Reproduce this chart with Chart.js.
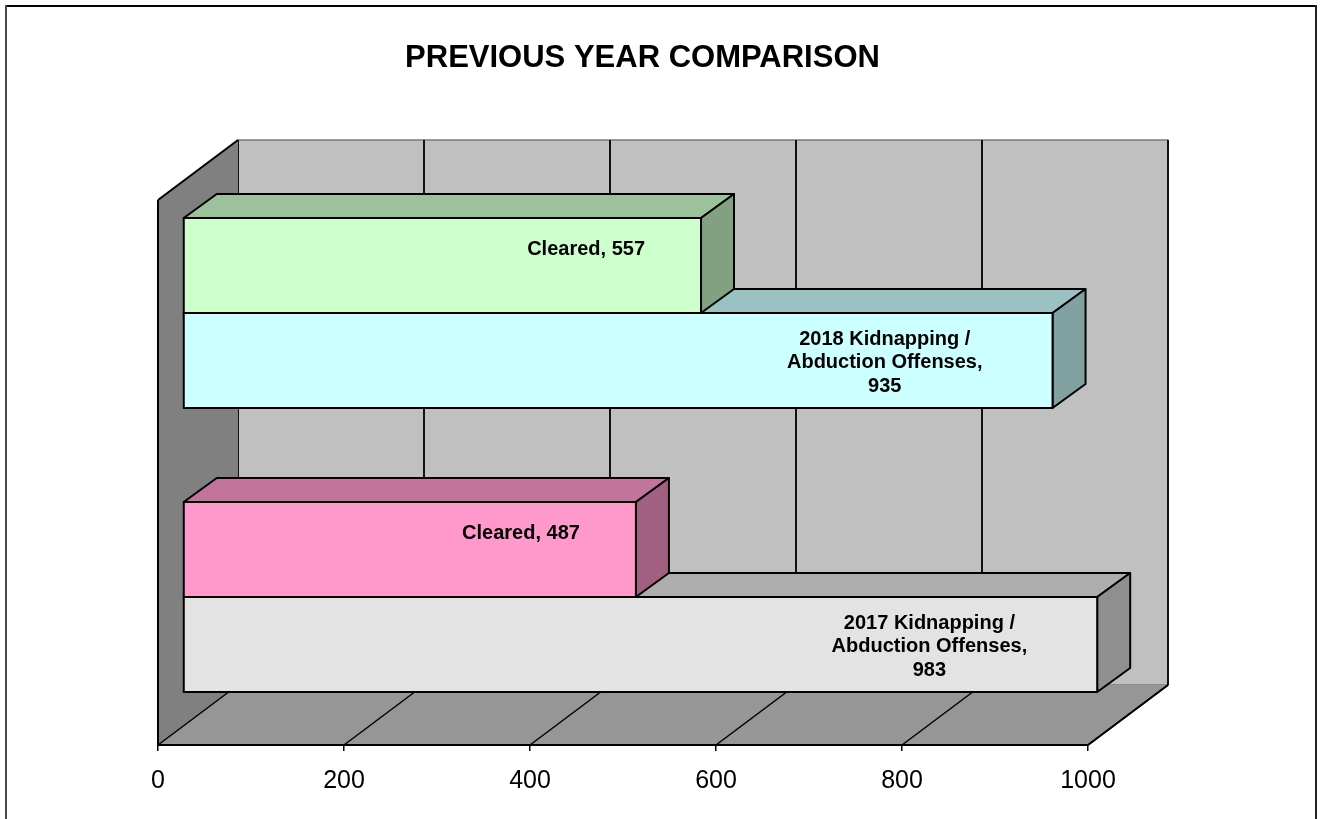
<!DOCTYPE html>
<html lang="en">
<head>
<meta charset="UTF-8">
<title>Previous Year Comparison</title>
<script src="https://cdn.jsdelivr.net/npm/chart.js"></script>
<style>
  html, body { margin: 0; padding: 0; background: #fff; }
  #wrap { width: 1323px; height: 819px; }
</style>
</head>
<body>
<div id="wrap"><canvas id="grafico" width="1323" height="819"></canvas></div>
<script>
// data
const categories = ['2018', '2017'];
const clearedValues = [557, 487];
const offenseValues = [935, 983];
const clearedNames = ['Cleared', 'Cleared'];
const offenseNames = ['2018 Kidnapping / Abduction Offenses', '2017 Kidnapping / Abduction Offenses'];
const clearedColors = ['#CCFFCC', '#FF99CC'];
const offenseColors = ['#CCFFFF', '#E3E3E3'];
const xTicks = [0, 200, 400, 600, 800, 1000];

const FONT = "'Liberation Sans', Arial, sans-serif";
const WALL = { dx: 80, dy: -60 };      // depth of the whole box
const PLANO = { dx: 25, dy: -18 };     // where the bars sit in depth
const FONDO = { dx: 33, dy: -24 };     // depth of each bar

function shade(hex, f) {
    const n = parseInt(hex.slice(1), 16);
    const r = Math.round(((n >> 16) & 255) * f);
    const g = Math.round(((n >> 8) & 255) * f);
    const b = Math.round((n & 255) * f);
    return `rgb(${r},${g},${b})`;
}

function poly(ctx, pts, fill, stroke, lw) {
    ctx.beginPath();
    ctx.moveTo(pts[0][0], pts[0][1]);
    for (let i = 1; i < pts.length; i++) ctx.lineTo(pts[i][0], pts[i][1]);
    ctx.closePath();
    if (fill) { ctx.fillStyle = fill; ctx.fill(); }
    if (stroke) { ctx.strokeStyle = stroke; ctx.lineWidth = lw || 2; ctx.stroke(); }
}

function line(ctx, x0, y0, x1, y1, color, lw) {
    ctx.beginPath();
    ctx.moveTo(x0, y0);
    ctx.lineTo(x1, y1);
    ctx.strokeStyle = color;
    ctx.lineWidth = lw;
    ctx.stroke();
}

function partirTexto(ctx, texto, maxW) {
    const palabras = texto.split(' ');
    const lineas = [];
    let actual = '';
    for (const p of palabras) {
        const prueba = actual ? actual + ' ' + p : p;
        if (actual && ctx.measureText(prueba).width > maxW) {
            lineas.push(actual);
            actual = p;
        } else {
            actual = prueba;
        }
    }
    lineas.push(actual);
    return lineas;
}

const efecto3d = {
    id: 'efecto3d',
    afterLayout(chart) {
        // bars use a slightly taller band than the walls
        const y = chart.scales.y, ca = chart.chartArea;
        y.top = ca.top - 11;
        y.bottom = ca.bottom + 12;
        y.configure();
    },
    beforeDraw(chart) {
        const ctx = chart.ctx;
        ctx.save();
        line(ctx, 6, 6, 1316, 6, '#000', 2);
        line(ctx, 6, 5, 6, 819, '#4a4a4a', 2);
        line(ctx, 1316, 5, 1316, 819, '#222', 2);
        ctx.restore();
    },
    beforeDatasetsDraw(chart) {
        const ctx = chart.ctx;
        const { left: L, right: R, top: T, bottom: B } = chart.chartArea;
        const xs = chart.scales.x;
        ctx.save();
        ctx.lineJoin = 'round';
        // back wall
        poly(ctx, [[L + WALL.dx, T + WALL.dy], [R + WALL.dx, T + WALL.dy], [R + WALL.dx, B + WALL.dy], [L + WALL.dx, B + WALL.dy]], '#C0C0C0', '#7a7a7a', 1.5);
        xTicks.forEach(v => {
            const px = xs.getPixelForValue(v) + WALL.dx;
            line(ctx, px, T + WALL.dy, px, B + WALL.dy, '#111', 2);
        });
        // left wall
        poly(ctx, [[L, T], [L + WALL.dx, T + WALL.dy], [L + WALL.dx, B + WALL.dy], [L, B]], '#808080', null);
        line(ctx, L, B, L, T, '#000', 2);
        line(ctx, L, T, L + WALL.dx, T + WALL.dy, '#000', 2);
        // floor
        poly(ctx, [[L, B], [R, B], [R + WALL.dx, B + WALL.dy], [L + WALL.dx, B + WALL.dy]], '#969696', null);
        line(ctx, L, B, R, B, '#000', 2);
        line(ctx, R, B, R + WALL.dx, B + WALL.dy, '#000', 2);
        xTicks.forEach(v => {
            const px = xs.getPixelForValue(v);
            line(ctx, px, B, px + WALL.dx, B + WALL.dy, '#000', 1.5);
        });
        ctx.restore();
    },
    afterDatasetsDraw(chart) {
        const ctx = chart.ctx;
        ctx.save();
        ctx.lineJoin = 'round';
        const etiquetas = [];
        // draw from bottom to top so upper bars cover the lower ones
        for (let i = categories.length - 1; i >= 0; i--) {
            for (let d = chart.data.datasets.length - 1; d >= 0; d--) {
                const ds = chart.data.datasets[d];
                const el = chart.getDatasetMeta(d).data[i];
                const { x, y, base, height } = el.getProps(['x', 'y', 'base', 'height'], true);
                const x0 = base + PLANO.dx, x1 = x + PLANO.dx;
                const y0 = y - height / 2 + PLANO.dy, y1 = y + height / 2 + PLANO.dy;
                const color = ds.colores[i];
                poly(ctx, [[x0, y0], [x1, y0], [x1 + FONDO.dx, y0 + FONDO.dy], [x0 + FONDO.dx, y0 + FONDO.dy]], shade(color, 0.76), '#000', 2);
                poly(ctx, [[x1, y0], [x1 + FONDO.dx, y0 + FONDO.dy], [x1 + FONDO.dx, y1 + FONDO.dy], [x1, y1]], shade(color, 0.63), '#000', 2);
                poly(ctx, [[x0, y0], [x1, y0], [x1, y1], [x0, y1]], color, '#000', 2);
                etiquetas.push({ texto: ds.nombres[i] + ', ' + ds.data[i], fin: x1, centro: (y0 + y1) / 2 });
            }
        }
        ctx.font = `bold 20px ${FONT}`;
        ctx.fillStyle = '#000';
        ctx.textAlign = 'center';
        ctx.textBaseline = 'middle';
        etiquetas.forEach(e => {
            const lineas = partirTexto(ctx, e.texto, 225);
            const ancho = Math.max(...lineas.map(l => ctx.measureText(l).width));
            const margen = lineas.length > 1 ? 70 : 56;
            const cx = e.fin - margen - ancho / 2;
            const lh = 23.5;
            const cy = e.centro - 16 + (lineas.length - 1) * 9;
            lineas.forEach((l, k) => {
                ctx.fillText(l, cx, cy + (k - (lineas.length - 1) / 2) * lh);
            });
        });
        ctx.restore();
    }
};

const ctx = document.getElementById('grafico').getContext('2d');
const grafico = new Chart(ctx, {
    type: 'bar',
    data: {
        labels: categories,
        datasets: [
            { label: 'Cleared', data: clearedValues, nombres: clearedNames, colores: clearedColors,
              backgroundColor: 'rgba(0,0,0,0)', borderWidth: 0 },
            { label: 'Offenses', data: offenseValues, nombres: offenseNames, colores: offenseColors,
              backgroundColor: 'rgba(0,0,0,0)', borderWidth: 0 }
        ]
    },
    options: {
        indexAxis: 'y',
        responsive: false,
        animation: false,
        categoryPercentage: 0.669,
        barPercentage: 1.0,
        layout: { padding: { left: 0, right: 38, top: 0, bottom: 0 } },
        scales: {
            x: {
                type: 'linear',
                min: 0,
                max: 1000,
                afterBuildTicks: s => { s.ticks = xTicks.map(v => ({ value: v })); },
                afterFit: s => { s.height = 74; },
                grid: { drawOnChartArea: false, drawTicks: true, tickLength: 6, color: '#000', lineWidth: 1.5 },
                border: { display: false },
                ticks: { color: '#000', font: { family: FONT, size: 25 }, padding: 15, maxRotation: 0,
                         callback: v => String(v) }
            },
            y: {
                type: 'category',
                afterFit: s => { s.width = 158; },
                ticks: { display: false },
                grid: { display: false },
                border: { display: false }
            },
            y2: {
                type: 'category',
                axis: 'y',
                position: 'right',
                afterFit: s => { s.width = 197; },
                ticks: { display: false },
                grid: { display: false },
                border: { display: false }
            }
        },
        plugins: {
            legend: { display: false },
            tooltip: { enabled: false },
            title: {
                display: true,
                text: 'PREVIOUS YEAR COMPARISON',
                color: '#000',
                font: { family: FONT, size: 31, weight: 'bold', lineHeight: 1.2 },
                padding: { top: 40, bottom: 122.8 }
            }
        }
    },
    plugins: [efecto3d]
});
</script>
</body>
</html>
